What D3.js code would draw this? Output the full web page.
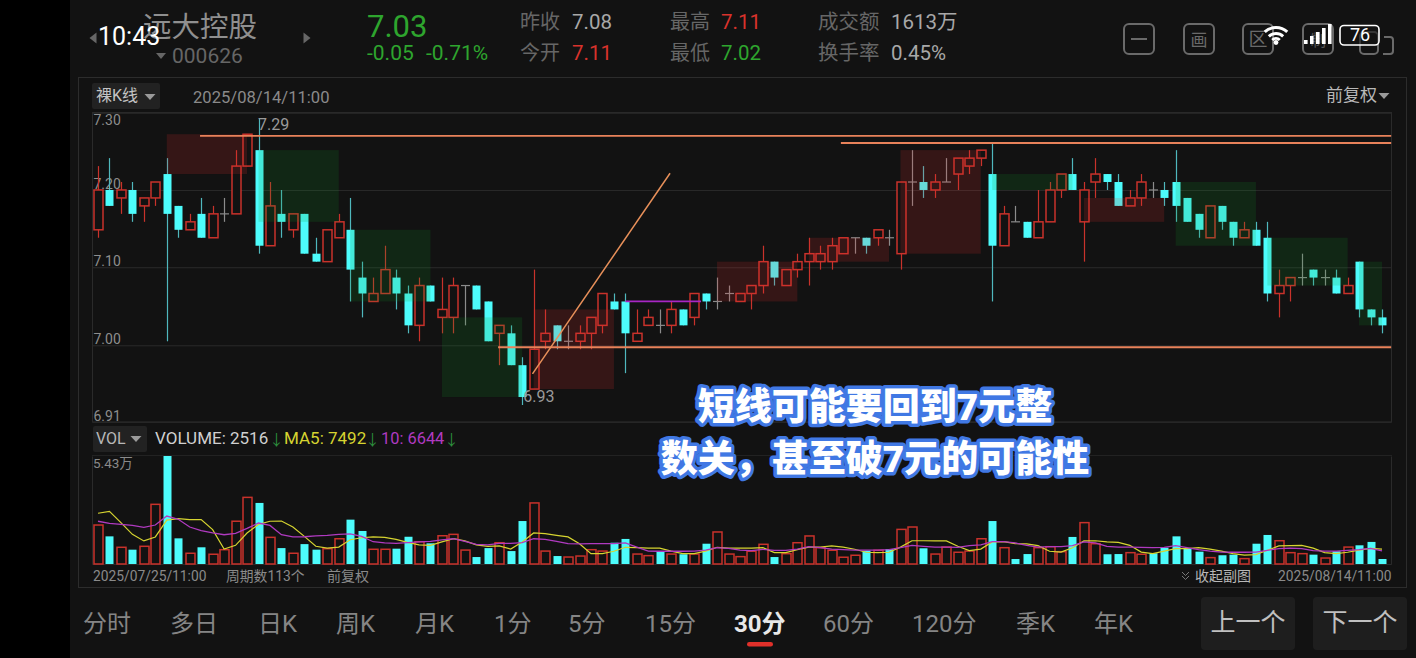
<!DOCTYPE html>
<html>
<head>
<meta charset="utf-8">
<script src="https://cdn.jsdelivr.net/npm/d3@7"></script>
<style>
  html, body { margin: 0; padding: 0; background: #000; overflow: hidden; }
  text { font-family: Roboto, "Noto Sans CJK SC", sans-serif; }
</style>
</head>
<body>
<div id="chart"></div>
<script>
// Candle values (113 bars of 30 minutes)
var opens = [7.15,7.20,7.19,7.20,7.18,7.19,7.22,7.18,7.15,7.17,7.14,7.17,7.17,7.23,7.25,7.13,7.17,7.15,7.17,7.12,7.11,7.14,7.15,7.09,7.06,7.07,7.09,
  7.07,7.03,7.08,7.04,7.04,7.08,7.08,7.06,7.02,7.02,6.98,6.95,7.01,7.03,7.01,7.01,7.02,7.03,7.06,7.06,7.01,7.03,7.03,7.03,7.05,7.04,7.07,7.06,
  7.07,7.06,7.07,7.08,7.11,7.08,7.10,7.11,7.11,7.11,7.12,7.14,7.14,7.14,7.14,7.12,7.21,7.21,7.20,7.21,7.22,7.23,7.24,7.22,7.13,7.16,7.16,7.14,
  7.16,7.20,7.22,7.16,7.21,7.22,7.21,7.18,7.19,7.20,7.20,7.21,7.19,7.17,7.14,7.18,7.16,7.14,7.15,7.14,7.07,7.08,7.09,7.10,7.09,7.09,7.07,7.11,7.05,7.04];
var closes = [7.20,7.18,7.20,7.17,7.19,7.21,7.17,7.15,7.16,7.14,7.17,7.17,7.23,7.27,7.13,7.18,7.16,7.17,7.12,7.11,7.15,7.16,7.10,7.07,7.07,7.10,7.07,
  7.03,7.08,7.06,7.05,7.08,7.08,7.05,7.01,7.03,6.98,6.94,7.00,7.02,7.01,7.01,7.02,7.04,7.07,7.05,7.02,7.02,7.04,7.03,7.05,7.03,7.07,7.06,7.06,
  7.07,7.07,7.08,7.11,7.09,7.10,7.11,7.12,7.12,7.13,7.14,7.14,7.13,7.15,7.14,7.21,7.21,7.20,7.21,7.21,7.24,7.24,7.25,7.13,7.17,7.16,7.14,7.16,
  7.20,7.22,7.20,7.20,7.22,7.21,7.18,7.19,7.21,7.20,7.19,7.18,7.16,7.15,7.18,7.16,7.14,7.15,7.13,7.07,7.08,7.09,7.09,7.09,7.09,7.07,7.08,7.05,7.04,7.03];
var highs = [7.23,7.24,7.21,7.21,7.19,7.21,7.24,7.18,7.17,7.19,7.18,7.19,7.25,7.27,7.29,7.21,7.20,7.17,7.17,7.14,7.15,7.17,7.19,7.11,7.09,7.13,7.10,
  7.08,7.09,7.08,7.09,7.09,7.08,7.08,7.06,7.03,7.03,6.99,7.10,7.05,7.03,7.03,7.03,7.04,7.07,7.07,7.07,7.05,7.05,7.05,7.06,7.05,7.07,7.07,7.09,
  7.08,7.07,7.08,7.13,7.11,7.10,7.12,7.14,7.13,7.14,7.14,7.14,7.14,7.15,7.15,7.21,7.25,7.23,7.22,7.24,7.24,7.25,7.25,7.26,7.18,7.18,7.16,7.20,
  7.21,7.22,7.24,7.21,7.24,7.22,7.22,7.20,7.22,7.21,7.21,7.25,7.19,7.17,7.18,7.18,7.16,7.16,7.16,7.16,7.10,7.09,7.12,7.10,7.10,7.10,7.09,7.11,7.05,7.05];
var lows = [7.14,7.18,7.17,7.16,7.16,7.18,7.01,7.14,7.15,7.14,7.14,7.16,7.17,7.23,7.12,7.13,7.14,7.14,7.12,7.11,7.11,7.14,7.06,7.04,7.06,7.07,7.05,
  7.02,7.01,7.06,7.02,7.02,7.03,7.05,7.01,6.98,6.98,6.93,6.95,7.00,7.00,7.00,7.00,7.00,7.02,7.05,6.97,7.01,7.03,7.02,7.02,7.03,7.03,7.05,7.05,
  7.06,7.06,7.05,7.07,7.08,7.08,7.09,7.08,7.10,7.10,7.12,7.12,7.12,7.13,7.13,7.10,7.18,7.19,7.19,7.21,7.20,7.22,7.23,7.06,7.13,7.16,7.14,7.14,
  7.16,7.19,7.20,7.11,7.19,7.20,7.18,7.18,7.18,7.19,7.18,7.16,7.16,7.14,7.14,7.15,7.13,7.14,7.13,7.06,7.04,7.06,7.08,7.08,7.08,7.07,7.07,7.04,7.03,7.02];

// Volume bars and their moving averages
var volumes = [19600,13900,8400,7200,8900,30000,54300,12900,5400,8400,4900,7200,21500,33500,30700,13400,8000,5400,10000,7200,7700,12700,22300,16600,7400,7400,7700,
  13700,11200,10400,14200,14900,7000,3500,8000,10700,6500,21600,30700,6500,4000,3500,4000,7200,6500,10700,12600,5000,4200,6400,5000,4900,5000,10200,16100,
  5000,3700,6400,9900,3500,5200,10700,14100,8200,6900,3400,4400,6700,6900,7500,17400,18600,7900,5000,8500,5900,6500,12700,21600,8200,2500,5000,8200,
  8700,6200,13600,20800,10200,4900,5000,5700,4900,5400,8200,13900,7700,6200,3200,4400,4700,2700,10200,14600,11700,5700,5200,4700,3000,6400,8500,9400,11100,2516];
var ma5 = [25500,26500,20800,14900,11600,13600,22100,22800,22300,22300,17300,7500,9400,15600,19900,21500,21600,18600,13900,8900,8000,8500,12200,13200,13600,13400,12400,
  10900,9600,9400,11100,12700,11600,9600,8900,9100,7500,11100,15600,15300,14400,13600,10200,5200,5200,6400,8400,8200,8000,8000,6500,5200,5200,6500,8400,
  8000,8000,8000,8200,5700,5700,7200,8500,8500,9100,8500,7400,5900,5700,5900,8500,11700,11700,11600,11600,8900,6700,7500,11100,11200,10200,10100,9200,
  6400,6000,8200,11600,11700,11100,10900,9400,6000,5200,6500,7700,7700,8200,7500,6500,5200,4500,4700,6900,9100,9200,9400,8000,5700,5200,5900,7000,7900,7492];
var ma10 = [21500,20400,19900,19400,18400,19600,24100,22500,18600,16800,15600,14700,15400,17900,20600,19400,14700,13600,13700,14100,14400,14900,15100,13900,11200,10600,10400,
  10700,11100,11400,12100,12700,11400,9900,9600,10400,10400,10700,12700,12400,11400,10200,10100,10200,10200,10200,10600,8500,6500,6400,6400,6400,6500,7000,8200,
  7900,7000,6700,7400,6900,6900,7500,8700,8200,7500,7200,7000,7000,7000,7200,8200,9400,8900,8500,8500,8400,9200,9600,11200,11200,10600,9400,8500,
  8700,8700,9200,11100,10600,8900,8500,8500,8400,8200,8400,9200,8200,7200,6500,6000,5900,5900,6000,6900,7700,8000,7700,6700,6500,6500,6900,7200,7900,6644];

// Shaded boxes: first bar, last bar, top price, bottom price, up or down
var boxStart = [6,14,22,30,38,54,62,70,78,86,94,102,110];
var boxEnd = [13,21,29,37,45,61,69,77,85,93,101,109,112];
var boxTop = [7.27,7.25,7.15,7.04,7.05,7.11,7.14,7.25,7.22,7.19,7.21,7.14,7.11];
var boxBottom = [7.22,7.16,7.06,6.94,6.95,7.06,7.11,7.12,7.20,7.16,7.13,7.08,7.03];
var boxUp = [true,false,false,false,true,true,true,true,false,true,false,false,false];

// Hand drawn lines on the chart, in bar index and price
var drawnLines = [
  { x1: 8.9, y1: 7.268, x2: 112.8, y2: 7.268, color: "#e8825a" },
  { x1: 64.8, y1: 7.259, x2: 112.8, y2: 7.259, color: "#e8825a" },
  { x1: 34.9, y1: 7.0025, x2: 112.8, y2: 7.0025, color: "#e8825a" },
  { x1: 37.9, y1: 6.969, x2: 49.9, y2: 7.221, color: "#e8905a" },
  { x1: 46, y1: 7.06, x2: 52.6, y2: 7.06, color: "#a826c4" }
];

// The grid is four even steps, the labels are those positions rounded
var priceTicks = [7.297, 7.20, 7.103, 7.005, 6.909];
var priceTickLabels = ["7.30", "7.20", "7.10", "7.00", "6.91"];

var navItems = ["分时","多日","日K","周K","月K","1分","5分","15分","30分","60分","120分","季K","年K"];
var navLeft = [83,170,258,336,415,494,568,645,734,823,912,1016,1094];

var width = 1416, height = 658;
var red = "#c9322b", cyan = "#4dfcfc", doji = "#8c8c8c", grid = "#2a2a2a";

var svg = d3.select("#chart").append("svg")
    .attr("width", width)
    .attr("height", height)
    .style("display", "block");

svg.append("rect").attr("width", width).attr("height", height).attr("fill", "#000");
svg.append("rect").attr("x", 70).attr("width", width - 70).attr("height", height).attr("fill", "#121212");

// small helper for all the plain labels around the chart
function label(x, y, str, size, fill, anchor, weight) {
  return svg.append("text")
      .attr("x", x)
      .attr("y", y)
      .attr("font-size", size)
      .attr("fill", fill)
      .attr("text-anchor", anchor || "start")
      .attr("font-weight", weight || 400)
      .text(str);
}

function triangle(cx, cy, w, h, dir, fill) {
  var p = dir === "down" ? [[cx - w / 2, cy - h / 2], [cx + w / 2, cy - h / 2], [cx, cy + h / 2]]
    : dir === "left" ? [[cx + h / 2, cy - w / 2], [cx + h / 2, cy + w / 2], [cx - h / 2, cy]]
    : [[cx - h / 2, cy - w / 2], [cx - h / 2, cy + w / 2], [cx + h / 2, cy]];
  svg.append("path").attr("d", "M" + p.join("L") + "Z").attr("fill", fill);
}

// Scales
var x = d3.scaleLinear().domain([0, 112]).range([98, 1382]);
var y = d3.scaleLinear().domain([6.93, 7.29]).range([405, 118.3]);
var yVol = d3.scaleLinear().domain([0, 54300]).range([564, 456]);

// Panel frame
svg.append("rect").attr("x", 78.5).attr("y", 77.5).attr("width", 1328).attr("height", 510)
    .attr("fill", "none").attr("stroke", "#2c2c2c");
svg.append("rect").attr("x", 92.5).attr("y", 112.5).attr("width", 1299).attr("height", 309.5)
    .attr("fill", "none").attr("stroke", grid);

// Price axis: grid lines with the labels sitting just over them
var priceAxis = svg.append("g")
    .attr("transform", "translate(92.5,0)")
    .call(d3.axisRight(y).tickValues(priceTicks).tickSize(1299)
      .tickFormat(function (d, i) { return priceTickLabels[i]; }));
priceAxis.select(".domain").remove();
priceAxis.selectAll("line").attr("stroke", grid);
priceAxis.selectAll("text")
    .attr("x", 1)
    .attr("dy", function (d, i) { return i === 0 ? "12" : "-1.5"; })
    .attr("text-anchor", "start")
    .attr("dominant-baseline", "auto")
    .attr("font-size", 14)
    .attr("font-family", "Roboto")
    .attr("fill", "#8d8d8d");

// Candles
var idx = d3.range(opens.length);

function isUp(i) {
  if (closes[i] !== opens[i]) return closes[i] > opens[i];
  return i === 0 || closes[i] >= closes[i - 1];
}

var candles = svg.append("g").selectAll("g").data(idx).enter().append("g");

candles.append("line")
    .attr("x1", function (i) { return Math.round(x(i)) + 0.5; })
    .attr("x2", function (i) { return Math.round(x(i)) + 0.5; })
    .attr("y1", function (i) { return y(highs[i]); })
    .attr("y2", function (i) { return y(lows[i]); })
    .attr("stroke", function (i) {
      if (closes[i] === opens[i]) return doji;
      return closes[i] > opens[i] ? red : "#4fb8bd";
    })
    .attr("stroke-width", 1.2);

candles.filter(function (i) { return closes[i] === opens[i]; }).append("line")
    .attr("x1", function (i) { return Math.round(x(i)) - 4; })
    .attr("x2", function (i) { return Math.round(x(i)) + 5; })
    .attr("y1", function (i) { return y(closes[i]); })
    .attr("y2", function (i) { return y(closes[i]); })
    .attr("stroke", doji)
    .attr("stroke-width", 1.2);

candles.filter(function (i) { return closes[i] > opens[i]; }).append("rect")
    .attr("x", function (i) { return Math.round(x(i)) - 4; })
    .attr("width", 9)
    .attr("y", function (i) { return y(closes[i]); })
    .attr("height", function (i) { return y(opens[i]) - y(closes[i]); })
    .attr("fill", "#121212")
    .attr("stroke", red)
    .attr("stroke-width", 1.5);

candles.filter(function (i) { return closes[i] < opens[i]; }).append("rect")
    .attr("x", function (i) { return Math.round(x(i)) - 3.5; })
    .attr("width", 8)
    .attr("y", function (i) { return y(opens[i]); })
    .attr("height", function (i) { return y(closes[i]) - y(opens[i]); })
    .attr("fill", cyan);

// Shaded boxes go over the candles, that is how they tint them
svg.append("g").selectAll("rect").data(boxStart).enter().append("rect")
    .attr("x", function (d) { return x(d); })
    .attr("width", function (d, i) { return x(boxEnd[i]) - x(d); })
    .attr("y", function (d, i) { return y(boxTop[i]); })
    .attr("height", function (d, i) { return y(boxBottom[i]) - y(boxTop[i]); })
    .attr("fill", function (d, i) { return boxUp[i] ? "#e63232" : "#149628"; })
    .attr("fill-opacity", 0.17);

svg.append("g").selectAll("line").data(drawnLines).enter().append("line")
    .attr("x1", function (d) { return x(d.x1); })
    .attr("y1", function (d) { return y(d.y1); })
    .attr("x2", function (d) { return x(d.x2); })
    .attr("y2", function (d) { return y(d.y2); })
    .attr("stroke", function (d) { return d.color; })
    .attr("stroke-width", function (d, i) { return i === 3 ? 1.5 : 1.8; });

// High and low markers
label(x(14) - 0.5, y(7.29) + 11.5, "7.29", 16, "#9a9a9a");
label(x(37) + 1, y(6.93) - 3, "6.93", 16, "#9a9a9a");

// Volume panel
svg.append("path").attr("d", "M92.5,456.5V564.5H1391.5V456.5").attr("fill", "none").attr("stroke", grid);
svg.append("line").attr("x1", 92).attr("x2", 1392).attr("y1", 455.5).attr("y2", 455.5).attr("stroke", "#222");

var bars = svg.append("g").selectAll("rect").data(idx).enter().append("rect")
    .attr("x", function (i) { return Math.round(x(i)) - (isUp(i) ? 4 : 3.5); })
    .attr("width", function (i) { return isUp(i) ? 9 : 8; })
    .attr("y", function (i) { return yVol(volumes[i]); })
    .attr("height", function (i) { return yVol(0) - yVol(volumes[i]); })
    .attr("fill", function (i) { return isUp(i) ? "none" : cyan; })
    .attr("stroke", function (i) { return isUp(i) ? red : "none"; })
    .attr("stroke-width", 1.5);

var maLine = function (values) {
  return d3.line()
    .x(function (d, i) { return x(i); })
    .y(function (d) { return yVol(d); })
    .curve(d3.curveLinear)(values);
};
svg.append("path").attr("d", maLine(ma5)).attr("fill", "none").attr("stroke", "#d6d430").attr("stroke-width", 1.2);
svg.append("path").attr("d", maLine(ma10)).attr("fill", "none").attr("stroke", "#b03ac0").attr("stroke-width", 1.3);

// Header
label(143, 37, "远大控股", 28.5, "#8f8f8f");
label(98, 45, "10:43", 25, "#ffffff");
triangle(93, 38, 11, 7, "left", "#666");
triangle(307, 38, 11, 7, "right", "#666");
triangle(161, 56, 10, 6, "down", "#666");
label(172, 63, "000626", 21, "#666");
label(367, 37, "7.03", 31, "#2ea52e");
label(367, 60, "-0.05", 21, "#2ea52e");
label(426, 60, "-0.71%", 21, "#2ea52e");

label(520, 29, "昨收", 20, "#666");
label(572, 29, "7.08", 20.5, "#a8a8a8");
label(520, 60, "今开", 20, "#666");
label(572, 60, "7.11", 20.5, "#d8322c");
label(670, 29, "最高", 20, "#666");
label(721, 29, "7.11", 20.5, "#d8322c");
label(670, 60, "最低", 20, "#666");
label(721, 60, "7.02", 20.5, "#2ea52e");
label(818, 29, "成交额", 20.5, "#666");
label(891, 29, "1613万", 20.5, "#a8a8a8");
label(818, 60, "换手率", 20.5, "#666");
label(891, 60, "0.45%", 20.5, "#a8a8a8");

// Toolbar icons and the status bar drawn over them
[1124, 1184, 1243, 1303].forEach(function (left) {
  svg.append("rect").attr("x", left).attr("y", 24).attr("width", 30).attr("height", 30).attr("rx", 5)
      .attr("fill", "none").attr("stroke", "#6a6a6a").attr("stroke-width", 2);
});
svg.append("line").attr("x1", 1131).attr("x2", 1147).attr("y1", 39).attr("y2", 39).attr("stroke", "#6a6a6a").attr("stroke-width", 2);
label(1199, 46, "画", 17, "#6a6a6a", "middle");
label(1258, 46, "区", 19, "#6a6a6a", "middle");
label(1318, 46, "制", 16, "#555", "middle");
svg.append("rect").attr("x", 1360).attr("y", 32).attr("width", 18).attr("height", 22).attr("rx", 4)
    .attr("fill", "none").attr("stroke", "#6a6a6a").attr("stroke-width", 2);
svg.append("path").attr("d", "M1384,37h6a3,3 0 0 1 3,3v11a3,3 0 0 1 -3,3h-7")
    .attr("fill", "none").attr("stroke", "#6a6a6a").attr("stroke-width", 2);

[18, 12, 7].forEach(function (r) {
  svg.append("path")
      .attr("d", d3.arc().innerRadius(r - 3).outerRadius(r).startAngle(-0.75).endAngle(0.75))
      .attr("transform", "translate(1276,44)")
      .attr("fill", "#fff");
});
svg.append("circle").attr("cx", 1276).attr("cy", 42.5).attr("r", 2.4).attr("fill", "#fff");
[[1304, 40, 4], [1310, 36, 8], [1316, 32, 12], [1322, 28, 16], [1328, 24, 20]].forEach(function (b) {
  svg.append("rect").attr("x", b[0]).attr("y", b[1]).attr("width", 3.6).attr("height", b[2]).attr("fill", "#fff");
});
svg.append("rect").attr("x", 1340).attr("y", 25.5).attr("width", 39).attr("height", 19.5).attr("rx", 4)
    .attr("fill", "#121212").attr("fill-opacity", 0.6).attr("stroke", "#fff").attr("stroke-width", 1.6);
label(1360, 41, "76", 18, "#fff", "middle");

// Chart headers
svg.append("rect").attr("x", 92).attr("y", 83).attr("width", 68).attr("height", 26).attr("rx", 2).attr("fill", "#222");
label(96, 101, "裸K线", 16, "#c4c4c4");
triangle(150, 97, 11, 6, "down", "#9a9a9a");
label(193, 103, "2025/08/14/11:00", 16.6, "#8a8a8a");
label(1326, 101, "前复权", 17, "#b8b8b8");
triangle(1384, 96, 11, 6, "down", "#9a9a9a");

svg.append("rect").attr("x", 93).attr("y", 426).attr("width", 54).attr("height", 26).attr("rx", 2).attr("fill", "#222");
label(96, 444, "VOL", 16, "#b8b8b8");
triangle(136, 439, 11, 6, "down", "#9a9a9a");

label(155, 444, "VOLUME: 2516", 17, "#d0d0d0");
label(269, 445, "↓", 15, "#2c8c3c");
label(284, 444, "MA5: 7492", 17, "#d6d430");
label(365, 445, "↓", 15, "#2c8c3c");
label(381, 444, "10: 6644", 16.4, "#b03ac0");
label(444, 445, "↓", 15, "#2c8c3c");

label(93, 468, "5.43万", 13.5, "#8a8a8a");
label(93, 581, "2025/07/25/11:00", 13.8, "#8a8a8a");
label(226, 581, "周期数113个", 13.8, "#8a8a8a");
label(327, 581, "前复权", 14, "#8a8a8a");
label(1195, 581, "收起副图", 14, "#b8b8b8");
svg.append("path").attr("d", "M1182,572l3.5,3.5l3.5,-3.5M1182,576l3.5,3.5l3.5,-3.5")
    .attr("fill", "none").attr("stroke", "#777");
label(1278, 581, "2025/08/14/11:00", 13.8, "#8a8a8a");

// Bottom nav
svg.selectAll("text.nav").data(navItems).enter().append("text")
    .attr("class", "nav")
    .attr("x", function (d, i) { return navLeft[i]; })
    .attr("y", 632)
    .attr("font-size", 24)
    .attr("font-weight", function (d) { return d === "30分" ? 700 : 400; })
    .attr("fill", function (d) { return d === "30分" ? "#e8e8e8" : "#858585"; })
    .text(function (d) { return d; });
svg.append("rect").attr("x", 747).attr("y", 642).attr("width", 26).attr("height", 4.5).attr("rx", 2.2).attr("fill", "#e0302a");

svg.append("rect").attr("x", 1201).attr("y", 597).attr("width", 94).attr("height", 53).attr("rx", 4).attr("fill", "#1e1e1e");
svg.append("rect").attr("x", 1313).attr("y", 597).attr("width", 94).attr("height", 53).attr("rx", 4).attr("fill", "#1e1e1e");
label(1248, 631, "上一个", 25, "#c0c0c0", "middle");
label(1360, 631, "下一个", 25, "#c0c0c0", "middle");

// Caption laid over the chart
[["短线可能要回到7元整", 420], ["数关，甚至破7元的可能性", 472]].forEach(function (c) {
  svg.append("text")
      .attr("x", 875)
      .attr("y", c[1])
      .attr("text-anchor", "middle")
      .attr("font-size", 37)
      .attr("font-weight", 900)
      .attr("fill", "#fff")
      .attr("stroke", "#4078e4")
      .attr("stroke-width", 7)
      .attr("stroke-linejoin", "round")
      .style("paint-order", "stroke")
      .text(c[0]);
});
</script>
</body>
</html>
